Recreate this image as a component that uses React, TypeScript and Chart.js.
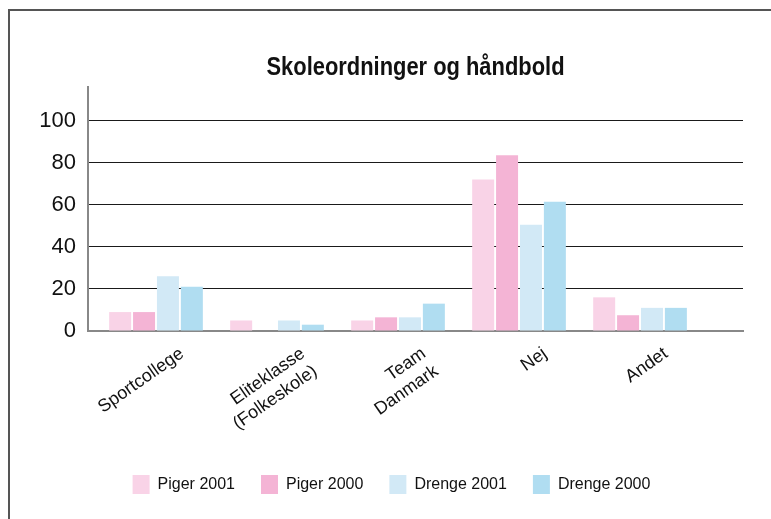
import React, { useEffect, useRef } from "react";
import { Chart, registerables } from "chart.js";

Chart.register(...registerables);

const chartTitle = "Skoleordninger og håndbold";
const categories: (string | string[])[] = [
  "Sportcollege",
  ["Eliteklasse", "(Folkeskole)"],
  ["Team", "Danmark"],
  "Nej",
  "Andet",
];
const seriesNames = ["Piger 2001", "Piger 2000", "Drenge 2001", "Drenge 2000"];
const piger2001 = [9, 5, 5, 72, 16];
const piger2000 = [9, 0, 6.5, 83.5, 7.5];
const drenge2001 = [26, 5, 6.5, 50.5, 11];
const drenge2000 = [21, 3, 13, 61.5, 11];
const yTicks = [0, 20, 40, 60, 80, 100];
const colors = ["#f9d3e7", "#f4b4d5", "#d2e9f6", "#b0ddf1"];

const FONT = '"Liberation Sans", Arial, Helvetica, sans-serif';

export default function App() {
  const ref = useRef<HTMLCanvasElement | null>(null);
  useEffect(() => {
    if (!ref.current) return;
    const series = [piger2001, piger2000, drenge2001, drenge2000];
    const titlePlugin = {
      id: "centerTitle",
      afterDraw(chart: any) {
        const { ctx, chartArea } = chart;
        ctx.save();
        ctx.font = `bold 25px ${FONT}`;
        ctx.fillStyle = "#111";
        ctx.textAlign = "center";
        ctx.textBaseline = "middle";
        const w = ctx.measureText(chartTitle).width;
        const sx = Math.min(1, 298 / w);
        ctx.translate((chartArea.left + chartArea.right) / 2, 68);
        ctx.scale(sx, 1);
        ctx.fillText(chartTitle, 0, 0);
        ctx.restore();
      },
    };
    const chart = new Chart(ref.current, {
      type: "bar",
      data: {
        datasets: series.map((vals, si) => ({
          label: seriesNames[si],
          data: vals.map((v, i) => ({ x: i, y: v })),
          backgroundColor: colors[si],
          borderWidth: 0,
          categoryPercentage: 0.79,
          barPercentage: 0.92,
        })),
      },
      options: {
        responsive: false,
        animation: false,
        layout: { padding: { left: 40, top: 87, right: 28, bottom: 15 } },
        plugins: {
          title: { display: false },
          tooltip: { enabled: false },
          legend: {
            position: "bottom",
            labels: {
              boxWidth: 17,
              boxHeight: 19,
              padding: 26,
              color: "#111",
              font: { family: FONT, size: 16 },
            },
          },
        },
        scales: {
          x: {
            type: "linear",
            offset: false,
            min: -0.562,
            max: 4.851,
            grid: { display: false },
            border: { display: true, color: "#888", width: 2 },
            afterBuildTicks: (scale: any) => {
              scale.ticks = categories.map((_, i) => ({ value: i }));
            },
            afterFit: (scale: any) => {
              scale.height = 118;
            },
            ticks: {
              autoSkip: false,
              minRotation: 35,
              maxRotation: 35,
              labelOffset: 26,
              padding: 4,
              color: "#111",
              font: { family: FONT, size: 18 },
              callback: (value: any) => categories[Math.round(Number(value))] as any,
            },
          },
          y: {
            min: 0,
            max: 116,
            afterBuildTicks: (scale: any) => {
              scale.ticks = yTicks.map((v) => ({ value: v }));
            },
            afterFit: (scale: any) => {
              scale.width = 48;
            },
            grid: {
              drawTicks: false,
              color: (ctx: any) => (ctx.tick && ctx.tick.value === 0 ? "rgba(0,0,0,0)" : "#1a1a1a"),
              lineWidth: 1,
            },
            border: { display: true, color: "#888", width: 2 },
            ticks: {
              padding: 12,
              color: "#111",
              font: { family: FONT, size: 22 },
            },
          },
        },
      },
      plugins: [titlePlugin],
    });
    return () => chart.destroy();
  }, []);

  return (
    <div style={{ position: "absolute", left: 0, top: 0, width: 771, height: 519, overflow: "hidden", background: "#fff" }}>
      <div
        style={{
          position: "absolute",
          left: 8,
          top: 9,
          width: 900,
          height: 700,
          borderTop: "2px solid #555",
          borderLeft: "2px solid #555",
        }}
      />
      <canvas ref={ref} width={771} height={519} style={{ position: "absolute", left: 0, top: 0, display: "block" }} />
    </div>
  );
}
